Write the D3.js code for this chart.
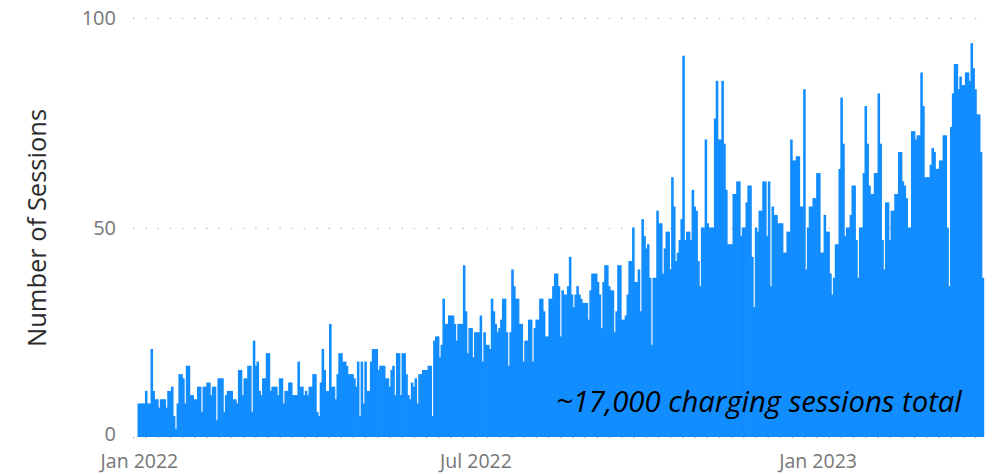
<!DOCTYPE html>
<html><head><meta charset="utf-8">
<script src="https://cdn.jsdelivr.net/npm/d3@7"></script>
<style>
html,body{margin:0;padding:0;background:#fff;}
svg{display:block;}
</style></head>
<body>
<svg id="chart" width="992" height="474"></svg>
<script>
// Daily sessions, 1 Jan 2022 .. 31 Mar 2023
const startDay = "2022-01-01";
const endDayExclusive = "2023-04-01";
const sessions = [
8,8,8,8,11,8,8,21,11,9, 9,7,9,9,9,7,11,11,12,5, 2,8,15,15,14,8,17,17,10,10, 9,9,12,12,6,12,12,13,13,10, 12,12,4,14,14,
14,6,10,11,11, 11,9,9,8,16, 16,10,14,14,17, 17,6,23,17,18, 11,10,14,14,20, 20,11,12,12,12, 10,14,14,8,11, 11,13,13,10,10, 10,18,12,12,10, 11,
10,12,12,15,15, 6,5,13,21,16, 11,11,27,12,12, 9,15,20,20,18, 18,17,15,15,15, 14,12,18,5,18, 8,18,11,11,18, 21,21,21,16,17, 17,17,14,14,12,
16,17,10,20,20, 10,20,20,15,10, 9,13,12,14,8, 15,15,16,16,16, 17,17,5,23,24, 24,19,22,33,27, 27,29,29,29,27, 23,27,27,27,41, 30,20,26,26,19, 25,25,
25,29,18,25,22, 22,21,33,30,27, 25,26,28,33,33, 25,17,25,40,36, 33,33,27,27,18, 23,23,28,28,18, 26,28,28,33,33, 30,24,24,33,33, 36,39,39,36,24,
35,34,34,36,43, 34,31,34,36,34, 33,32,32,32,28, 35,39,39,39,37, 34,26,37,41,41, 36,35,35,25,30, 41,41,28,28,29, 34,42,42,50,37, 37,40,30,52,48, 45,
46,38,22,38,38, 54,51,51,39,45, 49,49,40,62,55, 42,44,47,52,91, 47,49,49,47,59, 55,54,42,36,50, 50,71,51,50,50, 50,76,85,71,71, 85,70,59,46,46,
46,58,58,61,61, 48,50,50,56,60, 60,43,31,50,49, 54,54,61,61,48, 61,36,55,53,53, 51,51,51,44,44, 49,49,71,66,66, 67,67,55,55,83, 40,50,55,55,57, 57,63,
63,44,44,53,49, 49,39,34,38,46, 46,64,81,70,48, 50,50,53,60,60, 47,38,50,50,63, 79,70,60,58,58, 63,63,82,70,47, 40,56,56,47,54, 54,58,58,68,68,
61,60,57,50,50, 73,73,71,72,72, 87,79,62,62,62, 65,69,68,64,64, 66,66,72,72,50, 36,74,82,89,89, 83,86,84,84,87, 87,85,94,88,83, 77,77,68,38
];
const yTicks = [0, 50, 100];
const xTickDates = ["2022-01-01", "2022-07-01", "2023-01-01"];
const xTickLabels = ["Jan 2022", "Jul 2022", "Jan 2023"];
const yTitle = "Number of Sessions";
const note = "~17,000 charging sessions total";

(function () {
const parse = d3.timeParse("%Y-%m-%d");
const days = d3.timeDay.range(parse(startDay), parse(endDayExclusive));
const data = days.map((d, i) => ({date: d, value: sessions[i]})).filter(d => d.value != null);

const svg = d3.select("#chart");
const mLeft = 137.5, mRight = 983.5, mTop = 18, mBottom = 437;

const x = d3.scaleTime()
  .domain([d3.timeHour.offset(days[0], -12), d3.timeHour.offset(days[days.length - 1], 12)])
  .range([mLeft, mRight]);
const y = d3.scaleLinear().domain([0, 100]).range([mBottom, mTop]);
const step = (mRight - mLeft) / days.length;

const font = "'Segoe UI', 'Open Sans', 'Noto Sans', sans-serif";

// gridlines
svg.append("g").selectAll("line").data(yTicks).join("line")
  .attr("x1", 133).attr("x2", 986)
  .attr("y1", d => Math.round(y(d)) + 0.5).attr("y2", d => Math.round(y(d)) + 0.5)
  .attr("stroke", "#c8c8c8").attr("stroke-width", 1.6)
  .attr("stroke-dasharray", "1.6,10.6");

// bars (slight overlap so neighbours fuse like the reference)
svg.append("g").selectAll("rect").data(data).join("rect")
  .attr("x", d => x(d.date) - step / 2)
  .attr("width", step + 0.7)
  .attr("y", d => y(d.value))
  .attr("height", d => y(0) - y(d.value))
  .attr("fill", "#118DFF");

// y tick labels
svg.append("g").selectAll("text").data(yTicks).join("text")
  .attr("x", 116).attr("y", d => y(d))
  .attr("dy", d => d === 0 ? "0.2em" : "0.35em")
  .attr("text-anchor", "end")
  .attr("font-family", font).attr("font-size", 20)
  .attr("fill", "#767676")
  .text(d => d3.format("d")(d));

// x tick labels
svg.append("g").selectAll("text").data(xTickDates).join("text")
  .attr("x", d => x(parse(d)) + 1)
  .attr("y", 468)
  .attr("text-anchor", "middle")
  .attr("font-family", font).attr("font-size", 19.5)
  .attr("fill", "#767676")
  .text((d, i) => xTickLabels[i]);

// y title
svg.append("text")
  .attr("transform", "translate(46,228) rotate(-90)")
  .attr("text-anchor", "middle")
  .attr("font-family", font).attr("font-size", 25.5)
  .attr("fill", "#2b2b2b")
  .text(yTitle);

// annotation
const t = svg.append("text")
  .attr("x", 556).attr("y", 412)
  .attr("font-family", "'Open Sans', 'Noto Sans', sans-serif")
  .attr("font-style", "italic")
  .attr("font-size", 28)
  .attr("fill", "#000")
  .text(note);
const len = t.node().getComputedTextLength();
t.attr("font-size", 28 * 406 / len);
})();
</script>
</body></html>
